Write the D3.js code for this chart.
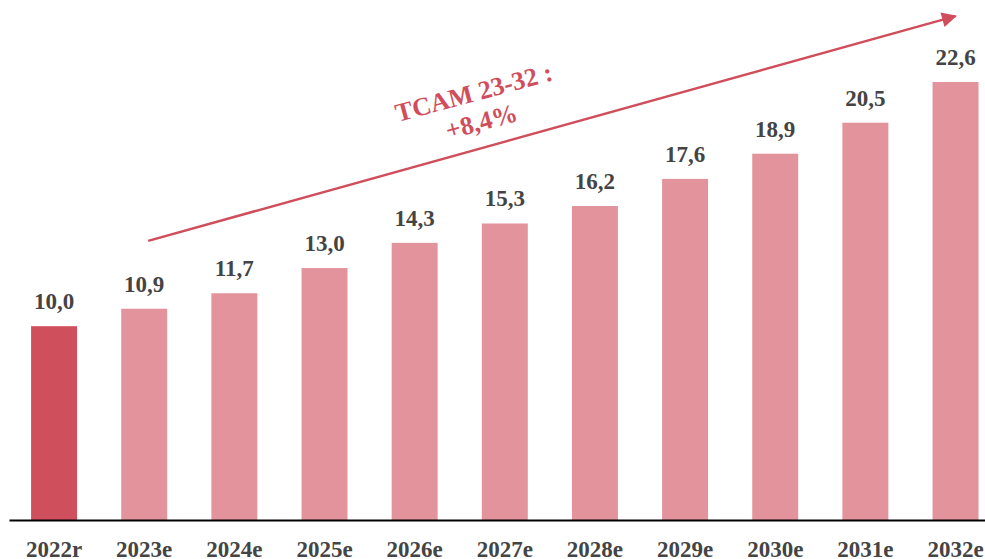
<!DOCTYPE html>
<html>
<head>
<meta charset="utf-8">
<script src="https://cdn.jsdelivr.net/npm/d3@7"></script>
<style>
  html, body { margin: 0; padding: 0; background: #fff; }
  svg { display: block; }
  text { font-family: "Liberation Serif", "Times New Roman", serif; font-weight: bold; }
</style>
</head>
<body>
<svg id="chart" width="985" height="559"></svg>
<script>
const categories = ["2022r","2023e","2024e","2025e","2026e","2027e","2028e","2029e","2030e","2031e","2032e"];
const values = [10.0, 10.9, 11.7, 13.0, 14.3, 15.3, 16.2, 17.6, 18.9, 20.5, 22.6];
const valueLabels = ["10,0","10,9","11,7","13,0","14,3","15,3","16,2","17,6","18,9","20,5","22,6"];
const annotationLines = ["TCAM 23-32 :", "+8,4%"];
const arrowFrom = {cat: "2023e", value: 14.4};
const arrowTo = {cat: "2032e", value: 26.0};

const svg = d3.select("#chart");
const baseY = 520;

const x = d3.scaleBand().domain(categories).range([9, 1000.6]).paddingInner(0.49).paddingOuter(0.245);
const y = d3.scaleLinear().domain([0, 22.6]).range([baseY, 82]);

const colorActual = "#CF4F5C";
const colorEst = "#E2939B";
const accent = "#D04E5C";
const labelColor = "#444444";

svg.selectAll("rect.bar").data(categories).enter().append("rect")
  .attr("class","bar")
  .attr("x", d => x(d))
  .attr("width", x.bandwidth())
  .attr("y", (d,i) => y(values[i]))
  .attr("height", (d,i) => baseY - y(values[i]))
  .attr("fill", (d,i) => i === 0 ? colorActual : colorEst);

svg.selectAll("text.val").data(categories).enter().append("text")
  .attr("class","val")
  .attr("x", d => x(d) + x.bandwidth()/2)
  .attr("y", (d,i) => y(values[i]) - 17)
  .attr("text-anchor","middle")
  .attr("font-size", 23)
  .attr("fill", labelColor)
  .text((d,i) => valueLabels[i]);

const axis = svg.append("g").attr("transform", `translate(0,${baseY})`)
  .call(d3.axisBottom(x).tickSize(0).tickPadding(21));
axis.select(".domain").attr("stroke","#000").attr("stroke-width",2);
axis.selectAll(".tick text")
  .attr("font-size", 23)
  .attr("font-family", '"Liberation Serif", "Times New Roman", serif')
  .attr("font-weight","bold")
  .attr("fill", labelColor)
  .attr("dy", "0.71em");

// arrow
const defs = svg.append("defs");
defs.append("marker").attr("id","ah")
  .attr("viewBox","0 0 10 10").attr("refX",9).attr("refY",5)
  .attr("markerUnits","userSpaceOnUse")
  .attr("markerWidth",18).attr("markerHeight",15)
  .attr("orient","auto")
  .append("path").attr("d","M0,0 L10,5 L0,10 Z").attr("fill", accent);

const x1 = x(arrowFrom.cat) + x.bandwidth()/2 + 4, y1 = y(arrowFrom.value);
const x2 = x(arrowTo.cat) + x.bandwidth()/2, y2 = y(arrowTo.value);
svg.append("line")
  .attr("x1", x1).attr("y1", y1).attr("x2", x2).attr("y2", y2)
  .attr("stroke", accent).attr("stroke-width", 2.5)
  .attr("marker-end","url(#ah)");

const ann = svg.append("g").attr("transform","translate(476,101) rotate(-15)");
ann.selectAll("text").data(annotationLines).enter().append("text")
  .attr("x", 0).attr("y", (d,i) => i * 30)
  .attr("text-anchor","middle")
  .attr("font-size", 26)
  .attr("fill", accent)
  .text(d => d);
</script>
</body>
</html>
